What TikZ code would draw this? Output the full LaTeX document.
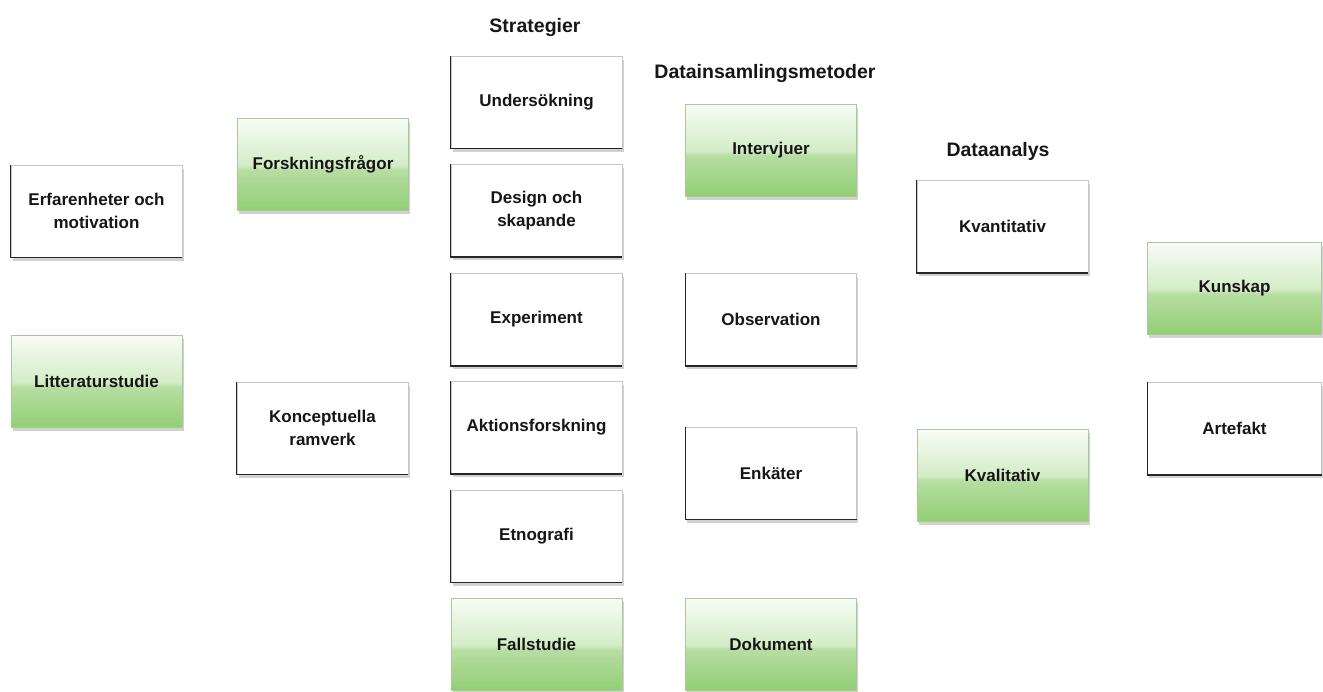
\documentclass[tikz,border=0pt]{standalone}
\usepackage{fontspec}
\setmainfont{Liberation Sans}
\usetikzlibrary{shadows}
\definecolor{gB}{HTML}{93CE75}
\definecolor{gM1}{HTML}{B6DEA1}
\definecolor{gM2}{HTML}{D3ECC6}
\definecolor{gT}{HTML}{F8FCF6}
\definecolor{gEdge}{HTML}{A9C99A}
\definecolor{txt}{HTML}{161616}
\pgfdeclareverticalshading{glossgreen}{100bp}{color(0bp)=(gB); color(25bp)=(gB); color(47bp)=(gM1); color(49.5bp)=(gM2); color(75bp)=(gT); color(100bp)=(gT)}
\tikzset{
  box/.style={rectangle, minimum width=171pt, minimum height=92pt, inner sep=0pt,
    align=center, text=txt, font=\fontsize{17}{23}\selectfont\bfseries,
    drop shadow={shadow xshift=1.5pt, shadow yshift=-3.5pt, fill=black, opacity=0.18}},
  whitebox/.style={box, fill=white, draw=gray!45, line width=0.8pt},
  greenbox/.style={box, shading=glossgreen, draw=gEdge, line width=0.8pt},
  title/.style={anchor=base, text=txt, font=\fontsize{19.5}{23}\selectfont\bfseries},
  darkedge/.style={draw=black!85, line width=1.2pt}
}
\begin{document}
\begin{tikzpicture}[x=1pt, y=-1pt]
\useasboundingbox (0,0) rectangle (1323,691);
% titles
\node[title] (tStrat) at (535,32) {Strategier};
\node[title] (tData) at (765,78) {Datainsamlingsmetoder};
\node[title] (tAnal) at (998,156) {Dataanalys};
% column 1
\node[whitebox] (erf) at (96.5,211) {Erfarenheter och\\motivation};
\node[greenbox] (lit) at (96.5,381.5) {Litteraturstudie};
% column 2
\node[greenbox] (fors) at (323,164.5) {Forskningsfrågor};
\node[whitebox] (konc) at (322.5,428) {Konceptuella\\ramverk};
% column 3
\node[whitebox] (und) at (536.5,102) {Undersökning};
\node[whitebox] (des) at (536.5,210.5) {Design och\\skapande};
\node[whitebox] (exp) at (536.5,319.5) {Experiment};
\node[whitebox] (akt) at (536.5,427.5) {Aktionsforskning};
\node[whitebox] (etn) at (536.5,536) {Etnografi};
\node[greenbox] (fall) at (536.5,644.5) {Fallstudie};
% column 4
\node[greenbox] (int) at (771,150) {Intervjuer};
\node[whitebox] (obs) at (771,319.5) {Observation};
\node[whitebox] (enk) at (771,473) {Enkäter};
\node[greenbox] (dok) at (771,644) {Dokument};
% column 5
\node[whitebox] (kvant) at (1002.5,226.5) {Kvantitativ};
\node[greenbox] (kval) at (1002.5,475) {Kvalitativ};
% column 6
\node[greenbox, minimum width=174pt] (kun) at (1234.5,288.5) {Kunskap};
\node[whitebox, minimum width=174pt] (art) at (1234.5,428.5) {Artefakt};
% dark left and bottom edges of white boxes
\foreach \n in {erf,konc,und,des,exp,akt,etn,obs,enk,kvant,art}{
  \draw[darkedge] (\n.north west) -- (\n.south west) -- (\n.south east);
}
\end{tikzpicture}
\end{document}
